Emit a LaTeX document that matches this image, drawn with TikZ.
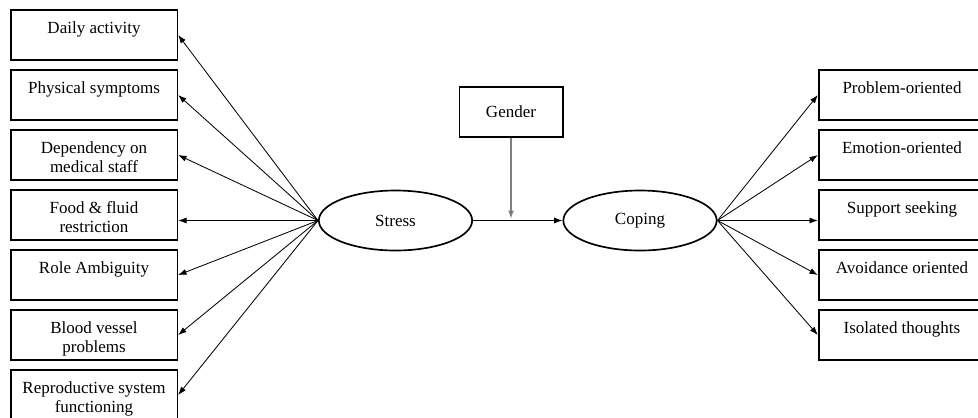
\documentclass[tikz,border=0pt]{standalone}
\usepackage{fontspec}
\setmainfont{Liberation Serif}
\usetikzlibrary{arrows,arrows.meta,positioning,shapes.geometric}
\newcommand{\boxtext}[1]{\parbox[c][18pt][t]{98pt}{\centering\strut #1}}
\tikzset{
    box/.style =    {rectangle,
                    fill=white,
                    draw=black,
                    text=black,
                    line width=1pt,
                    align=center,
                    inner sep=1pt,
                    minimum width=100pt,
                    minimum height=30pt,
                    font=\fontsize{10.2}{11.5}\selectfont},
    var/.style =    {ellipse,
                    fill=white,
                    draw=black,
                    text=black,
                    line width=1pt,
                    minimum width=92pt,
                    minimum height=36pt,
                    font=\fontsize{10.2}{11.5}\selectfont},
    link/.style =   {->,
                    line width=0.5pt},
    -,
    >={Latex[length=5pt,width=3.6pt]},
    node distance=5pt}

\begin{document}
\begin{tikzpicture}
                \useasboundingbox (0,0) rectangle (586.8pt,-250.2pt);
                % stress side
                \node[box]      (daily) at (56.4pt,-21pt)    {\boxtext{Daily activity}};
                \node[box]      (phys)  [below=of daily]     {\boxtext{Physical symptoms}};
                \node[box]      (dep)   [below=of phys]      {\boxtext{Dependency on\\medical staff}};
                \node[box]      (food)  [below=of dep]       {\boxtext{Food \& fluid\\restriction}};
                \node[box]      (role)  [below=of food]      {\boxtext{Role Ambiguity}};
                \node[box]      (blood) [below=of role]      {\boxtext{Blood vessel\\problems}};
                \node[box]      (repro) [below=of blood]     {\boxtext{Reproductive system\\functioning}};
                % coping side
                \node[box]      (prob)  at (541.2pt,-57pt)   {\boxtext{Problem-oriented}};
                \node[box]      (emo)   [below=of prob]      {\boxtext{Emotion-oriented}};
                \node[box]      (supp)  [below=of emo]       {\boxtext{Support seeking}};
                \node[box]      (avoid) [below=of supp]      {\boxtext{Avoidance oriented}};
                \node[box]      (iso)   [below=of avoid]     {\boxtext{Isolated thoughts}};
                % middle
                \node[var]      (stress) at (237.3pt,-132.3pt) {Stress};
                \node[var]      (coping) at (384pt,-132.3pt)   {Coping};
                \node[box,minimum width=62pt] (gender) at (306.6pt,-67.2pt) {Gender};
                \coordinate     (mod) at (gender.south |- stress.east);
                \path [link]    (stress.west) edge (daily.east)
                                (stress.west) edge (phys.east)
                                (stress.west) edge (dep.east)
                                (stress.west) edge (food.east |- stress.west)
                                (stress.west) edge (role.east)
                                (stress.west) edge (blood.east)
                                (stress.west) edge (repro.east);
                \path [link]    (coping.east) edge (prob.west)
                                (coping.east) edge (emo.west)
                                (coping.east) edge (supp.west |- coping.east)
                                (coping.east) edge (avoid.west)
                                (coping.east) edge (iso.west);
                \path [link]    (stress) edge (coping);
                \path [link,draw=gray,line width=0.9pt,shorten >=1pt] (gender) edge (mod);
        \end{tikzpicture}
\end{document}
